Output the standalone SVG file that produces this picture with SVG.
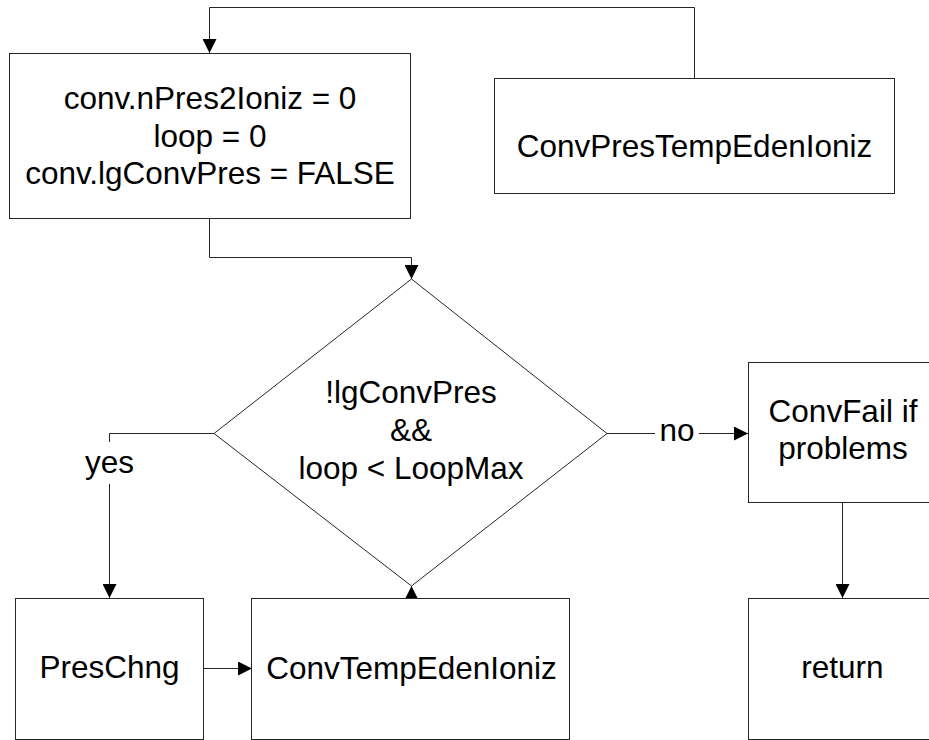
<svg xmlns="http://www.w3.org/2000/svg" width="929" height="740" viewBox="0 0 929 740">
  <style>
    .box { fill: #ffffff; stroke: #262626; stroke-width: 1; }
    .edge { fill: none; stroke: #262626; stroke-width: 1; }
    .lbl { font-family: "Liberation Sans", Arial, sans-serif; font-size: 31.5px; fill: #000000; text-anchor: middle; }
  </style>
  <defs>
    <marker id="arrow" viewBox="0 0 14 14" refX="14" refY="7" markerWidth="14" markerHeight="14" markerUnits="userSpaceOnUse" orient="auto">
      <path d="M0,0 L14,7 L0,14 Z" fill="#000000"/>
    </marker>
  </defs>
  <rect width="929" height="740" fill="#ffffff"/>

  <g id="connectors">
    <!-- loop back from ConvPresTempEdenIoniz to the init block -->
    <polyline class="edge" points="694.5,78 694.5,7.5 209.5,7.5 209.5,53" marker-end="url(#arrow)"/>
    <!-- init block to decision -->
    <polyline class="edge" points="209.5,219 209.5,257.5 411.5,257.5 411.5,279" marker-end="url(#arrow)"/>
    <!-- yes branch -->
    <polyline class="edge" points="214,433.5 109.5,433.5 109.5,442"/>
    <line class="edge" x1="109.5" y1="484" x2="109.5" y2="598" marker-end="url(#arrow)"/>
    <!-- no branch -->
    <line class="edge" x1="607" y1="433.5" x2="655" y2="433.5"/>
    <line class="edge" x1="699" y1="433.5" x2="748" y2="433.5" marker-end="url(#arrow)"/>
    <!-- PresChng to ConvTempEdenIoniz -->
    <line class="edge" x1="204" y1="668.5" x2="252" y2="668.5" marker-end="url(#arrow)"/>
    <!-- ConvTempEdenIoniz back up to decision -->
    <line class="edge" x1="411.5" y1="598" x2="411.5" y2="586" marker-end="url(#arrow)"/>
    <!-- ConvFail to return -->
    <line class="edge" x1="842.5" y1="503" x2="842.5" y2="598" marker-end="url(#arrow)"/>
    <text class="lbl" x="109.5" y="473">yes</text>
    <text class="lbl" x="677" y="441">no</text>
  </g>

  <g id="init">
    <rect class="box" x="9.5" y="53.5" width="401" height="165"/>
    <text class="lbl" x="210" y="109">conv.nPres2Ioniz = 0</text>
    <text class="lbl" x="210" y="147">loop = 0</text>
    <text class="lbl" x="210" y="184">conv.lgConvPres = FALSE</text>
  </g>

  <g id="convPresTempEdenIoniz">
    <rect class="box" x="494.5" y="78.5" width="400" height="115"/>
    <text class="lbl" x="694.5" y="157">ConvPresTempEdenIoniz</text>
  </g>

  <g id="decision">
    <polygon class="box" points="411.5,279 607,433.5 411.5,586 214,433.5"/>
    <text class="lbl" x="411" y="403">!lgConvPres</text>
    <text class="lbl" x="411" y="441">&amp;&amp;</text>
    <text class="lbl" x="411" y="479">loop &lt; LoopMax</text>
  </g>

  <g id="convFail">
    <rect class="box" x="748.5" y="362.5" width="200" height="140"/>
    <text class="lbl" x="843" y="422">ConvFail if</text>
    <text class="lbl" x="843" y="459">problems</text>
  </g>

  <g id="presChng">
    <rect class="box" x="15.5" y="598.5" width="188" height="141"/>
    <text class="lbl" x="109.5" y="678">PresChng</text>
  </g>

  <g id="convTempEdenIoniz">
    <rect class="box" x="251.5" y="598.5" width="318" height="141"/>
    <text class="lbl" x="411.5" y="679">ConvTempEdenIoniz</text>
  </g>

  <g id="return">
    <rect class="box" x="748.5" y="598.5" width="200" height="141"/>
    <text class="lbl" x="842.5" y="678">return</text>
  </g>
</svg>
